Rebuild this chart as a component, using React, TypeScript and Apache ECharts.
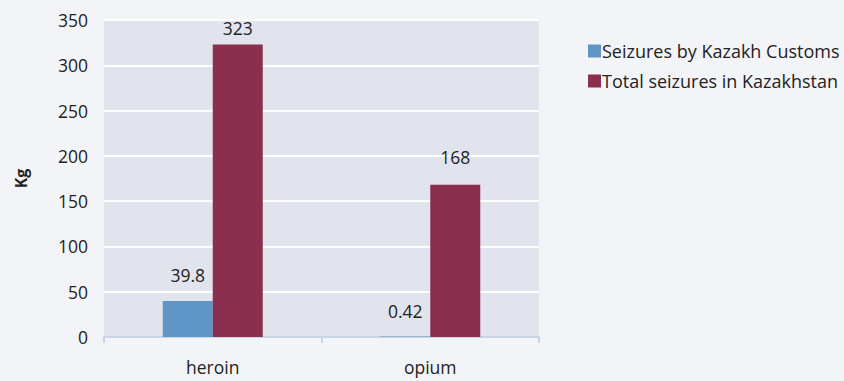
import React, { useEffect, useRef } from "react";
import * as echarts from "echarts";

const categories = ["heroin", "opium"];
const customsSeizures = [39.8, 0.42];
const totalSeizures = [323, 168];
const seriesNames = ["Seizures by Kazakh Customs", "Total seizures in Kazakhstan"];
const yTicks = { min: 0, max: 350, interval: 50 };

const FONT = "'Open Sans', sans-serif";

export default function App() {
  const ref = useRef<HTMLDivElement>(null);
  useEffect(() => {
    if (!ref.current) return;
    const chart = echarts.init(ref.current, undefined, { renderer: "svg" });
    const labelStyle = (distance: number) => ({
      show: true,
      position: "top",
      distance,
      fontFamily: FONT,
      fontSize: 17.5,
      color: "#222",
    });
    chart.setOption({
      animation: false,
      backgroundColor: "#f3f4f8",
      textStyle: { fontFamily: FONT },
      grid: {
        left: 104,
        right: 305,
        top: 20,
        bottom: 44,
        show: true,
        backgroundColor: "#e1e4ec",
        borderWidth: 0,
      },
      legend: {
        orient: "vertical",
        left: 583,
        top: 37,
        itemWidth: 13,
        itemHeight: 13,
        itemGap: 12,
        icon: "rect",
        textStyle: { fontFamily: FONT, fontSize: 18, color: "#222", padding: [0, 0, 0, -4] },
        data: seriesNames,
      },
      xAxis: {
        type: "category",
        data: categories,
        axisLine: { show: true, lineStyle: { color: "#c9d5e4", width: 2 } },
        axisTick: { show: true, length: 6, lineStyle: { color: "#c9d5e4", width: 2 } },
        axisLabel: { fontFamily: FONT, fontSize: 17.5, color: "#222", margin: 21 },
      },
      yAxis: {
        type: "value",
        min: yTicks.min,
        max: yTicks.max,
        interval: yTicks.interval,
        name: "Kg",
        nameLocation: "middle",
        nameGap: 75,
        nameRotate: 90,
        nameTextStyle: { fontFamily: FONT, fontSize: 16, fontWeight: "bold", color: "#222" },
        axisLine: { show: false },
        axisTick: { show: false },
        axisLabel: { fontFamily: FONT, fontSize: 17.5, color: "#222", margin: 16 },
        splitLine: { show: true, lineStyle: { color: "#ffffff", width: 2 } },
      },
      series: [
        {
          name: seriesNames[0],
          type: "bar",
          data: customsSeizures,
          barWidth: 50,
          barGap: "0%",
          itemStyle: { color: "#5f96c5" },
          label: labelStyle(17),
        },
        {
          name: seriesNames[1],
          type: "bar",
          data: totalSeizures.map((v, i) =>
            i === 0 ? { value: v, label: { distance: 7 } } : v
          ),
          barWidth: 50,
          barGap: "0%",
          itemStyle: { color: "#8b2f4f" },
          label: labelStyle(19),
        },
      ],
    });
    return () => chart.dispose();
  }, []);
  return <div ref={ref} style={{ width: 844, height: 381, position: "absolute", left: 0, top: 0 }} />;
}
